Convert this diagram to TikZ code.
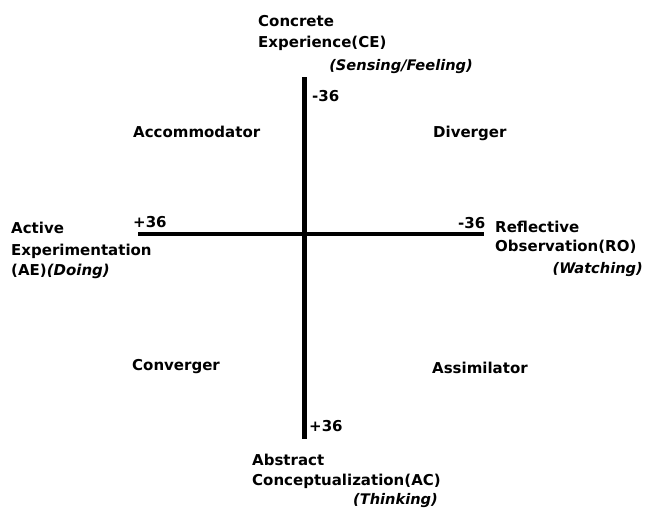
\documentclass[tikz,border=0pt]{standalone}
\usepackage{fontspec}
\setmainfont{DejaVu Sans}
\begin{document}
\begin{tikzpicture}[x=1pt,y=-1pt,
  lbl/.style={anchor=base west,inner sep=0pt,font=\fontsize{15}{17}\selectfont\bfseries},
  ilbl/.style={lbl,anchor=base east,font=\fontsize{14.6}{17}\selectfont\bfseries\itshape},
  axis/.style={line width=4.5pt,black}]
\useasboundingbox (0,0) rectangle (646,509);
\coordinate (vt) at (304.5,77);
\coordinate (vb) at (304.5,439);
\coordinate (hl) at (138,234);
\coordinate (hr) at (484,234);
\draw[axis] (vt) -- (vb);
\draw[axis] (hl) -- (hr);
% top
\node[lbl] (ce1) at (258,26) {Concrete};
\node[lbl] (ce2) at (258,47) {Experience(CE)};
\node[ilbl] (ce3) at (473,70) {(Sensing/Feeling)};
\node[lbl] (tn) at (312,101) {-36};
% quadrants
\node[lbl] (acc) at (133,137) {Accommodator};
\node[lbl] (div) at (433,137) {Diverger};
\node[lbl] (con) at (132,370) {Converger};
\node[lbl] (ass) at (432,373) {Assimilator};
% left
\node[lbl] (lp) at (133,227) {+36};
\node[lbl] (ae1) at (11,233) {Active};
\node[lbl] (ae2) at (11,255) {Experimentation};
\node[lbl] (ae3) at (11,275) {(AE)\textit{(Doing)}};
% right
\node[lbl] (rn) at (458,228) {-36};
\node[lbl] (ro1) at (495,232) {Reflective};
\node[lbl] (ro2) at (495,251) {Observation(RO)};
\node[ilbl] (ro3) at (643,273) {(Watching)};
% bottom
\node[lbl] (bp) at (309,431) {+36};
\node[lbl] (ac1) at (252,465) {Abstract};
\node[lbl] (ac2) at (252,485) {Conceptualization(AC)};
\node[ilbl] (ac3) at (438,504) {(Thinking)};
\end{tikzpicture}
\end{document}
